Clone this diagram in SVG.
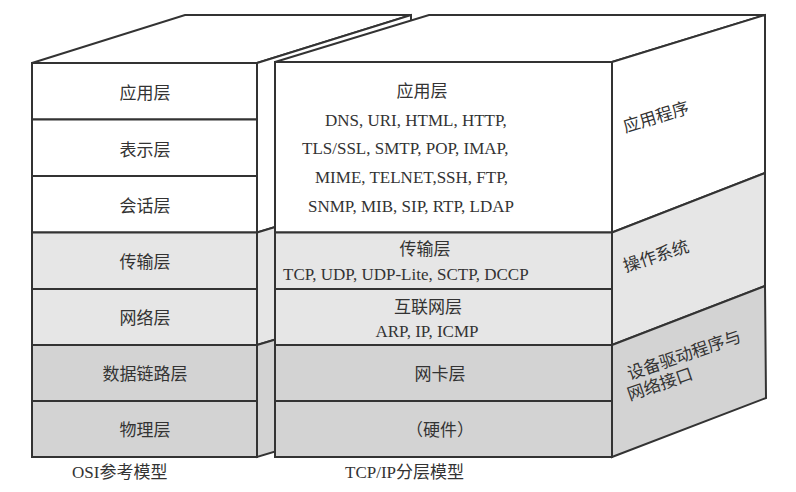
<svg xmlns="http://www.w3.org/2000/svg" width="796" height="492" viewBox="0 0 796 492">
<style>
.s{stroke:#333;stroke-width:2;stroke-linejoin:miter}
.w{fill:#ffffff}
.l{fill:#e6e6e6}
.d{fill:#d3d3d3}
text{font-family:"Liberation Serif","Noto Sans CJK SC",serif;font-size:17px;fill:#333}
.c{text-anchor:middle}
</style>
<rect width="796" height="492" fill="#ffffff"/>
<g id="osi">
  <polygon class="s w" points="32,63 185,15 411,15 257,63"/>
  <polygon class="s w" points="257,63 411,15 411,186 257,232.5"/>
  <polygon class="s l" points="257,232.5 411,186 411,299 257,345"/>
  <polygon class="s d" points="257,345 411,299 411,411 257,457"/>
  <g id="osi-app"><rect class="s w" x="32" y="63" width="225" height="56.5"/><text class="c" x="145" y="99">应用层</text></g>
  <g id="osi-pres"><rect class="s w" x="32" y="119.5" width="225" height="56.5"/><text class="c" x="145" y="155.5">表示层</text></g>
  <g id="osi-sess"><rect class="s w" x="32" y="176" width="225" height="56.5"/><text class="c" x="145" y="212">会话层</text></g>
  <g id="osi-trans"><rect class="s l" x="32" y="232.5" width="225" height="56.5"/><text class="c" x="145" y="268">传输层</text></g>
  <g id="osi-net"><rect class="s l" x="32" y="289" width="225" height="56"/><text class="c" x="145" y="324">网络层</text></g>
  <g id="osi-link"><rect class="s d" x="32" y="345" width="225" height="56"/><text class="c" x="145" y="380">数据链路层</text></g>
  <g id="osi-phy"><rect class="s d" x="32" y="401" width="225" height="56"/><text class="c" x="145" y="436">物理层</text></g>
  <text x="72" y="478">OSI参考模型</text>
</g>
<g id="tcpip">
  <polygon class="s w" points="275,62 429,15 765,15 612,62"/>
  <g id="side-app"><polygon class="s w" points="612,62 765,15 765,173 612,232.5"/>
    <text class="c" transform="translate(656,117) rotate(-17)" y="6">应用程序</text></g>
  <g id="side-os"><polygon class="s l" points="612,232.5 765,173 765,286 612,345"/>
    <text class="c" transform="translate(656,256) rotate(-18)" y="6">操作系统</text></g>
  <g id="side-drv"><polygon class="s d" points="612,345 765,286 766,398 612,457"/>
    <text class="c" transform="translate(684,355) rotate(-19)" y="6">设备驱动程序与</text>
    <text class="c" transform="translate(660,384) rotate(-19)" y="6">网络接口</text></g>
  <g id="tcp-app"><rect class="s w" x="275" y="62" width="337" height="170.5"/>
    <text class="c" x="422" y="97">应用层</text>
    <text x="325" y="126">DNS, URI, HTML, HTTP,</text>
    <text x="302" y="154">TLS/SSL, SMTP, POP, IMAP,</text>
    <text x="315" y="183">MIME, TELNET,SSH, FTP,</text>
    <text x="308" y="212">SNMP, MIB, SIP, RTP, LDAP</text></g>
  <g id="tcp-trans"><rect class="s l" x="275" y="232.5" width="337" height="56.5"/>
    <text class="c" x="425" y="255">传输层</text>
    <text x="283" y="280">TCP, UDP, UDP-Lite, SCTP, DCCP</text></g>
  <g id="tcp-inet"><rect class="s l" x="275" y="289" width="337" height="56"/>
    <text class="c" x="428" y="313">互联网层</text>
    <text class="c" x="427" y="337">ARP, IP, ICMP</text></g>
  <g id="tcp-link"><rect class="s d" x="275" y="345" width="337" height="56"/>
    <text class="c" x="440" y="380">网卡层</text></g>
  <g id="tcp-hw"><rect class="s d" x="275" y="401" width="337" height="56"/>
    <text class="c" x="440" y="436">（硬件）</text></g>
  <text x="345" y="478">TCP/IP分层模型</text>
</g>
</svg>
